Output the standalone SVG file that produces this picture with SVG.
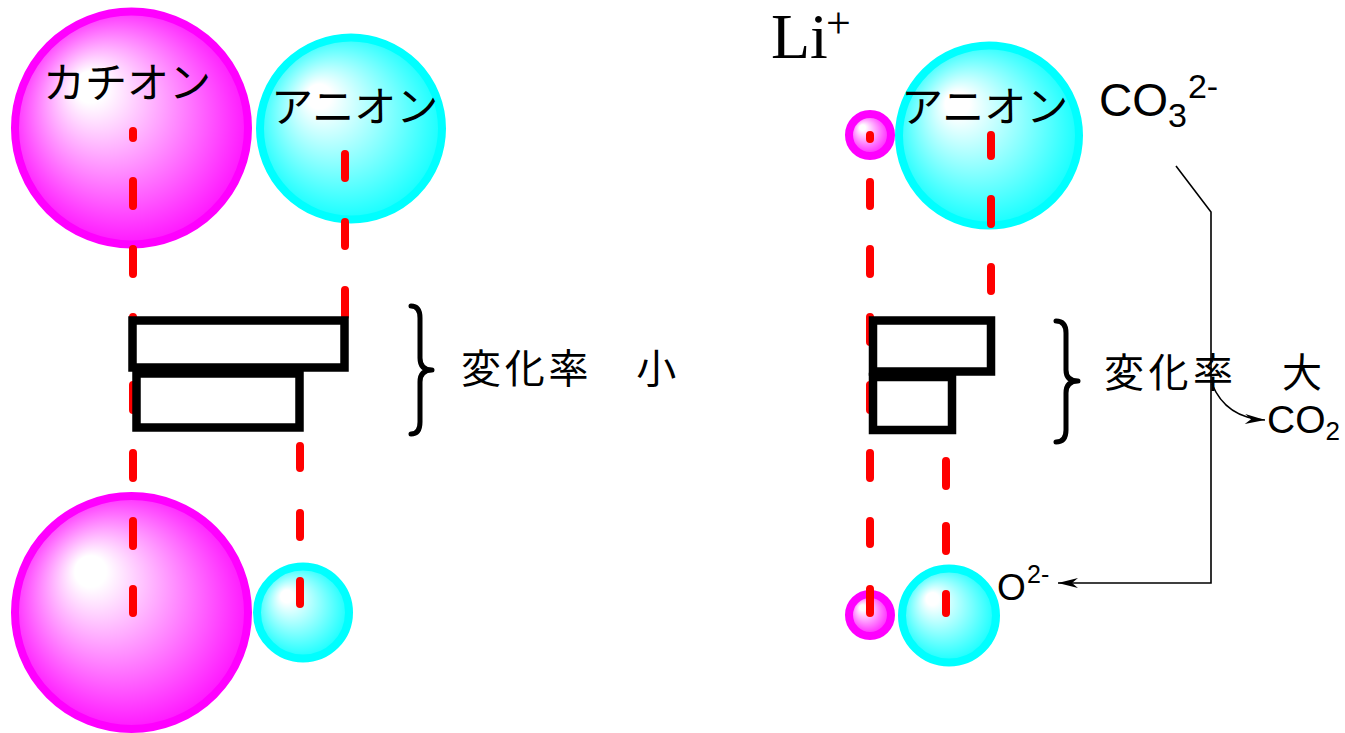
<svg xmlns="http://www.w3.org/2000/svg" width="1345" height="733" viewBox="0 0 1345 733">
<defs>
<radialGradient id="gM" cx="0.5" cy="0.5" r="0.56" fx="0.3" fy="0.3"><stop offset="0" stop-color="#ffffff"/><stop offset="0.12" stop-color="#ffffff"/><stop offset="1" stop-color="#ff00ff"/></radialGradient>
<radialGradient id="gC" cx="0.5" cy="0.5" r="0.56" fx="0.3" fy="0.3"><stop offset="0" stop-color="#ffffff"/><stop offset="0.12" stop-color="#ffffff"/><stop offset="1" stop-color="#00ffff"/></radialGradient>
<marker id="arr" markerUnits="userSpaceOnUse" markerWidth="24" markerHeight="12" viewBox="-22 -6 24 12" refX="0" refY="0" orient="auto"><path d="M0,0 L-20,-5 L-14,0 L-20,5 Z" fill="#000"/></marker>
</defs>
<style>
.cat{fill:url(#gM);stroke:#ff00ff;stroke-width:8}
.ani{fill:url(#gC);stroke:#00ffff;stroke-width:8}
.dash{stroke:#ff0000;stroke-width:8;stroke-linecap:round;fill:none}
.box{fill:#fff;stroke:#000;stroke-width:8.5}
.brace{fill:none;stroke:#000;stroke-width:5;stroke-linejoin:round;stroke-linecap:round}
.jp{font-family:"Noto Sans CJK JP","Noto Sans CJK SC",sans-serif;fill:#000}
.ar{font-family:"Liberation Sans",Arial,sans-serif;fill:#000}
.ln{stroke:#000;stroke-width:1.6;fill:none}
</style>

<g id="left-cation-top"><circle class="cat" cx="131.5" cy="128" r="116.5"/><text class="jp" x="43" y="98" font-size="42">カチオン</text></g>
<g id="left-anion-top"><circle class="ani" cx="351" cy="128.5" r="91"/><text class="jp" x="271" y="122" font-size="42">アニオン</text></g>
<g id="left-cation-bottom"><circle class="cat" cx="131.5" cy="612.5" r="116.5"/></g>
<g id="left-anion-bottom"><circle class="ani" cx="303" cy="612.5" r="46"/></g>

<g id="right-li-top"><circle class="cat" cx="870" cy="135" r="21"/></g>
<g id="right-anion-top"><circle class="ani" cx="989" cy="135.5" r="90"/><text class="jp" x="901" y="122" font-size="42">アニオン</text></g>
<g id="right-li-bottom"><circle class="cat" cx="870" cy="615" r="21"/></g>
<g id="right-anion-bottom"><circle class="ani" cx="949" cy="615.5" r="47"/></g>

<g id="connectors">
<path class="dash" d="M133,131 V138 M133,181 V206 M133,249 V274 M133,317 V342 M133,385 V410 M133,453 V478 M133,521 V546 M133,589 V613"/>
<path class="dash" d="M345,154 V178 M345,222 V246 M345,290 V316"/>
<path class="dash" d="M300,446 V468 M300,513 V537 M300,581 V604"/>
<path class="dash" d="M870,135 V139 M870,182 V206 M870,249 V274 M870,317 V342 M870,385 V410 M870,453 V478 M870,521 V544 M870,589 V613"/>
<path class="dash" d="M991,135 V156 M991,199 V224 M991,267 V291"/>
<path class="dash" d="M946,461 V486 M946,526 V551 M946,594 V613"/>
<path class="ln" d="M1176,166 L1211,212 L1211,583 L1058,583" marker-end="url(#arr)"/>
<path class="ln" d="M1212,384 Q1226,418 1265,420" marker-end="url(#arr)"/>
</g>

<g id="left-boxes">
<rect class="box" x="132.5" y="320.5" width="212" height="47"/>
<rect class="box" x="136.5" y="373.5" width="163" height="54"/>
</g>
<g id="right-boxes">
<rect class="box" x="873" y="320.5" width="118" height="51"/>
<rect class="box" x="873" y="377" width="79" height="53"/>
</g>

<g id="left-brace"><path class="brace" d="M411,306 Q420,306 420,318 L420,358 Q420,370 432,370 Q420,370 420,382 L420,422 Q420,434 411,434"/></g>
<g id="right-brace"><path class="brace" d="M1056,321 Q1066,321 1066,333 L1066,370 Q1066,381 1078,381 Q1066,381 1066,393 L1066,430 Q1066,442 1056,442"/></g>

<g id="label-left"><text class="jp" x="461" y="383" font-size="40" letter-spacing="3.8">変化率　小</text></g>
<g id="label-right"><text class="jp" x="1104" y="387" font-size="40" letter-spacing="4.5">変化率　大</text></g>

<g id="li-label"><text x="771" y="58" font-family="Liberation Serif,serif" font-size="64">Li</text><text x="826" y="38" font-family="Liberation Serif,serif" font-size="44">+</text></g>
<g id="co3-label"><text class="ar" x="1099" y="116" font-size="46">CO<tspan font-size="34" dy="11">3</tspan><tspan font-size="34" dx="1" dy="-29">2-</tspan></text></g>
<g id="co2-label"><text class="ar" x="1267" y="433" font-size="39">CO<tspan font-size="26" dy="7">2</tspan></text></g>
<g id="o2-label"><text class="ar" x="997" y="600" font-size="37">O</text><text class="ar" x="1027" y="583" font-size="25">2-</text></g>
</svg>
